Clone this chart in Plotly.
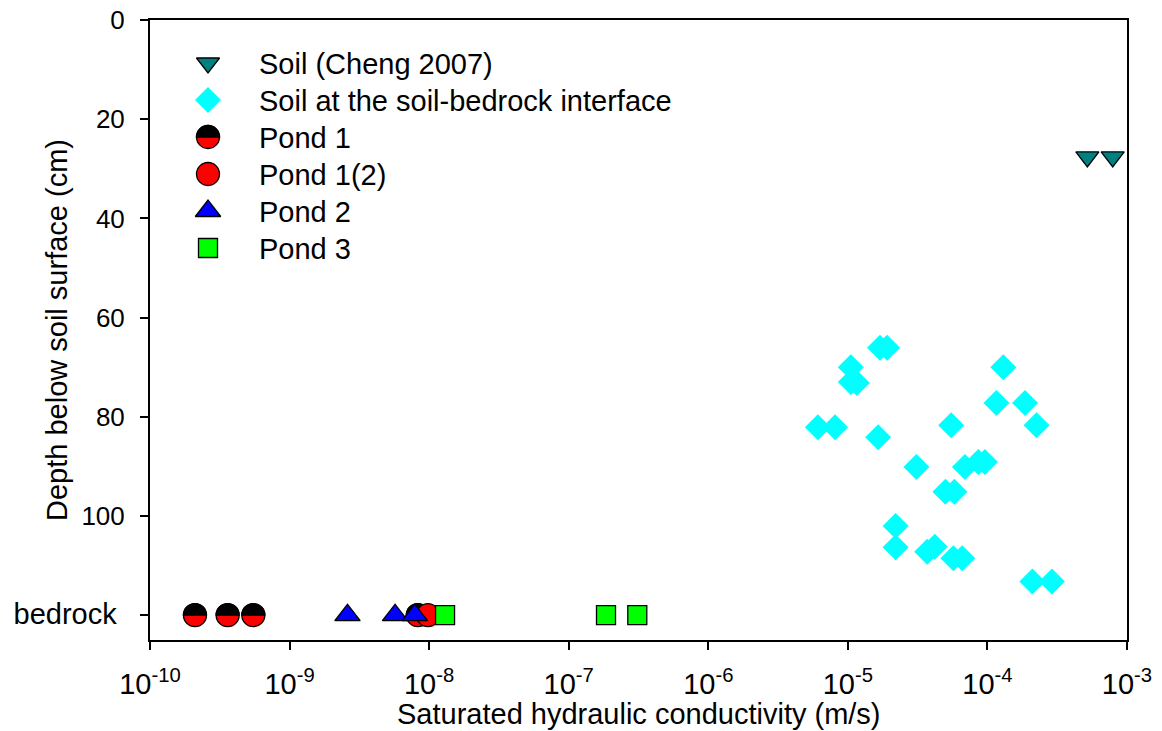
import plotly.graph_objects as go

# ---------------- data ----------------
cheng_k = [5.2e-4, 7.9e-4]
cheng_depth = [27.6, 27.6]

interface_k = [1.70e-5, 1.91e-5, 1.05e-5, 1.05e-5, 1.16e-5, 6.1e-6, 8.1e-6,
               1.65e-5, 1.30e-4, 1.16e-4, 1.86e-4, 2.25e-4, 5.5e-5, 3.1e-5,
               6.9e-5, 8.6e-5, 9.6e-5, 5.0e-5, 5.8e-5, 2.2e-5, 2.2e-5,
               3.7e-5, 4.2e-5, 5.7e-5, 6.6e-5, 2.1e-4, 2.9e-4]
interface_depth = [66.1, 66.1, 70.0, 73.0, 73.2, 82.1, 82.1,
                   84.1, 70.0, 77.2, 77.2, 81.7, 81.7, 90.1,
                   90.1, 89.1, 89.1, 95.1, 95.1, 102.0, 106.3,
                   107.2, 106.2, 108.5, 108.5, 113.2, 113.2]

pond1_k = [2.1e-10, 3.6e-10, 5.5e-10, 8.3e-9]
pond1_depth = [120, 120, 120, 120]
pond1b_k = [9.8e-9]
pond1b_depth = [120]
pond2_k = [2.6e-9, 5.7e-9, 7.9e-9]
pond2_depth = [120, 120, 120]
pond3_k = [1.3e-8, 1.85e-7, 3.1e-7]
pond3_depth = [120, 120, 120]

x_tickvals = [1e-10, 1e-9, 1e-8, 1e-7, 1e-6, 1e-5, 1e-4, 1e-3]
x_ticktext = ["10<sup>-10</sup>", "10<sup>-9</sup>", "10<sup>-8</sup>", "10<sup>-7</sup>",
              "10<sup>-6</sup>", "10<sup>-5</sup>", "10<sup>-4</sup>", "10<sup>-3</sup>"]
y_tickvals = [0, 20, 40, 60, 80, 100, 120]
y_ticktext = ["0", "20", "40", "60", "80", "100",
              '<span style="font-size:29px">bedrock&nbsp;</span>']

legend_names = ["Soil (Cheng 2007)", "Soil at the soil-bedrock interface",
                "Pond 1", "Pond 1(2)", "Pond 2", "Pond 3"]

x_title = "Saturated hydraulic conductivity (m/s)"
y_title = "Depth below soil surface (cm)"

# ---------------- style ----------------
FONT = "Liberation Sans, Arial, sans-serif"
R = 11.5  # half-circle marker radius (px)
KB = 0.5523


def circle_path(r):
    k = KB * r
    return (f"M{r},0 C{r},{k} {k},{r} 0,{r} C{-k},{r} {-r},{k} {-r},0 "
            f"C{-r},{-k} {-k},{-r} 0,{-r} C{k},{-r} {r},{-k} {r},0 Z")


def upper_half_path(r):
    k = KB * r
    return f"M{-r},0 C{-r},{k} {-k},{r} 0,{r} C{k},{r} {r},{k} {r},0 Z"


def half_circle_shapes(xs, ys, xref, yref, layer):
    out = []
    for xv, yv in zip(xs, ys):
        base = dict(type="path", xref=xref, yref=yref, xsizemode="pixel",
                    ysizemode="pixel", xanchor=xv, yanchor=yv, layer=layer,
                    line=dict(color="black", width=1.3))
        out.append(dict(base, path=circle_path(R), fillcolor="#FF0000"))
        out.append(dict(base, path=upper_half_path(R), fillcolor="black"))
    return out


edge = dict(color="black", width=1.3)
styles = [
    dict(symbol="triangle-down", color="#008080", size=20, line=edge),
    dict(symbol="diamond", color="#00FFFF", size=20, line=dict(width=0)),
    None,
    dict(symbol="circle", color="#FF0000", size=23, line=edge),
    dict(symbol="triangle-up", color="#0000FF", size=22, line=edge),
    dict(symbol="square", color="#00FF00", size=19, line=edge),
]

fig = go.Figure()

fig.add_trace(go.Scatter(x=cheng_k, y=cheng_depth, mode="markers", name=legend_names[0],
                         marker=styles[0], showlegend=False))
fig.add_trace(go.Scatter(x=interface_k, y=interface_depth, mode="markers", name=legend_names[1],
                         marker=styles[1], showlegend=False))
fig.add_trace(go.Scatter(x=pond1_k, y=pond1_depth, mode="markers", name=legend_names[2],
                         marker=dict(symbol="circle", size=23, color="rgba(0,0,0,0)",
                                     line=dict(width=0)), showlegend=False))
fig.add_trace(go.Scatter(x=pond1b_k, y=pond1b_depth, mode="markers", name=legend_names[3],
                         marker=styles[3], showlegend=False))
fig.add_trace(go.Scatter(x=pond2_k, y=pond2_depth, mode="markers", name=legend_names[4],
                         marker=styles[4], showlegend=False))
fig.add_trace(go.Scatter(x=pond3_k, y=pond3_depth, mode="markers", name=legend_names[5],
                         marker=styles[5], showlegend=False))

shapes = half_circle_shapes(pond1_k, pond1_depth, "x", "y", "between")

# ---- manual legend (in pixel space of the plot area via overlay axes) ----
LEG_X = 58
LEG_TX = 107
LEG_Y0 = 43
LEG_DY = 37.0
annotations = []
for i, name in enumerate(legend_names):
    ly = LEG_Y0 + i * LEG_DY
    if styles[i] is None:
        shapes += half_circle_shapes([LEG_X], [ly], "x2", "y2", "above")
    else:
        fig.add_trace(go.Scatter(x=[LEG_X], y=[ly], xaxis="x2", yaxis="y2", mode="markers",
                                 marker=styles[i], showlegend=False, hoverinfo="skip"))
    annotations.append(dict(x=LEG_TX, y=ly + 1, xref="x2", yref="y2", text=name,
                            showarrow=False, xanchor="left", yanchor="middle",
                            font=dict(family=FONT, size=29, color="black")))

annotations.append(dict(x=-93 / 977, y=0.5, xref="paper", yref="paper",
                        text=y_title, textangle=-90,
                        showarrow=False, xanchor="center", yanchor="middle",
                        font=dict(family=FONT, size=29, color="black")))
annotations.append(dict(x=0.5, y=-74 / 620, xref="paper", yref="paper",
                        text=x_title, showarrow=False, xanchor="center", yanchor="middle",
                        font=dict(family=FONT, size=29, color="black")))

fig.update_layout(
    width=1162, height=731,
    margin=dict(l=150, r=35, t=20, b=91, autoexpand=False),
    paper_bgcolor="white", plot_bgcolor="white",
    font=dict(family=FONT, color="black"),
    shapes=shapes, annotations=annotations,
    xaxis=dict(type="log", range=[-10, -3], tickvals=x_tickvals, ticktext=x_ticktext,
               showgrid=False, zeroline=False, showline=True, linecolor="black",
               linewidth=2, mirror=True, ticks="outside", ticklen=8, tickwidth=1.5,
               tickcolor="black", tickfont=dict(family=FONT, size=29),
               ticklabelstandoff=9, automargin=False),
    yaxis=dict(range=[125, 0], tickvals=y_tickvals, ticktext=y_ticktext,
               showgrid=False, zeroline=False, showline=True, linecolor="black",
               linewidth=2, mirror=True, ticks="outside", ticklen=8, tickwidth=1.5,
               tickcolor="black", tickfont=dict(family=FONT, size=26),
               ticklabelstandoff=10, automargin=False),
    xaxis2=dict(overlaying="x", range=[0, 977], visible=False, fixedrange=True),
    yaxis2=dict(overlaying="y", range=[620, 0], visible=False, fixedrange=True),
)

fig.write_html("out.html")
